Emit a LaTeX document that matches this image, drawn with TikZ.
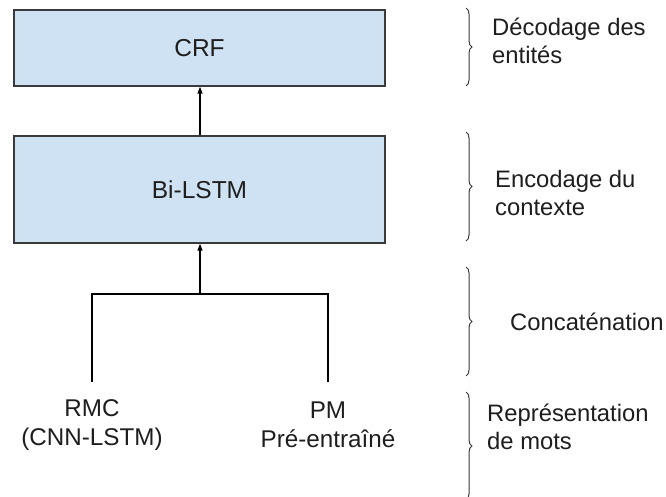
\documentclass[tikz,border=0pt]{standalone}
\usepackage{fontspec}
\setmainfont{Liberation Sans}
\usetikzlibrary{arrows.meta,decorations.pathreplacing}
\definecolor{boxfill}{HTML}{CFE2F3}
\definecolor{boxline}{HTML}{3A3A3A}
\definecolor{inkgray}{HTML}{1E1E1E}
\tikzset{
  layerbox/.style={draw=boxline, line width=1.4pt, fill=boxfill, minimum width=371pt,
    inner sep=0pt, text=inkgray, font=\fontsize{24.5}{28}\selectfont},
  flowarrow/.style={draw=black, line width=1.2pt, -{Triangle[length=7pt,width=5pt]}},
  flowline/.style={draw=black, line width=1.2pt},
  sidebrace/.style={draw=boxline, line width=1pt, decorate,
    decoration={brace, amplitude=6pt}},
  sidetext/.style={anchor=west, align=left, text=inkgray, inner sep=0pt,
    font=\fontsize{23.8}{28}\selectfont},
  inputtext/.style={align=center, text=inkgray, inner sep=0pt,
    font=\fontsize{24.2}{29}\selectfont},
}
\begin{document}
\begin{tikzpicture}[x=1pt, y=-1pt]
  \useasboundingbox[fill=white] (0,0) rectangle (666,497);

  % network layers
  \node[layerbox, minimum height=76pt] (crf) at (199.5,48) {CRF};
  \node[layerbox, minimum height=107pt] (lstm) at (199.5,189.5) {Bi-LSTM};

  % word representations
  \node[inputtext] (rmc) at (92,425) {RMC\\(CNN-LSTM)};
  \node[inputtext] (pm) at (328,425) {PM\\Pré-entraîné};

  % concatenation junction
  \coordinate (join) at (200,294);
  \coordinate (rmctop) at (92,382);
  \coordinate (pmtop) at (328,382);
  \draw[flowline] (rmctop) |- (join) -| (pmtop);
  \draw[flowarrow] (join) -- (lstm.south -| join);
  \draw[flowarrow] (lstm.north -| join) -- (crf.south -| join);

  % layer braces and captions
  \coordinate (b1t) at (466,8);   \coordinate (b1b) at (466,86);
  \coordinate (b2t) at (466,132); \coordinate (b2b) at (466,241);
  \coordinate (b3t) at (466,267); \coordinate (b3b) at (466,376);
  \coordinate (b4t) at (466,392); \coordinate (b4b) at (466,500);
  \draw[sidebrace] (b1t) -- (b1b);
  \draw[sidebrace] (b2t) -- (b2b);
  \draw[sidebrace] (b3t) -- (b3b);
  \draw[sidebrace] (b4t) -- (b4b);

  \node[sidetext] (t1) at (492,41) {Décodage des\\entités};
  \node[sidetext] (t2) at (495,193) {Encodage du\\contexte};
  \node[sidetext] (t3) at (510,322) {Concaténation};
  \node[sidetext] (t4) at (487,427) {Représentation\\de mots};
\end{tikzpicture}
\end{document}
